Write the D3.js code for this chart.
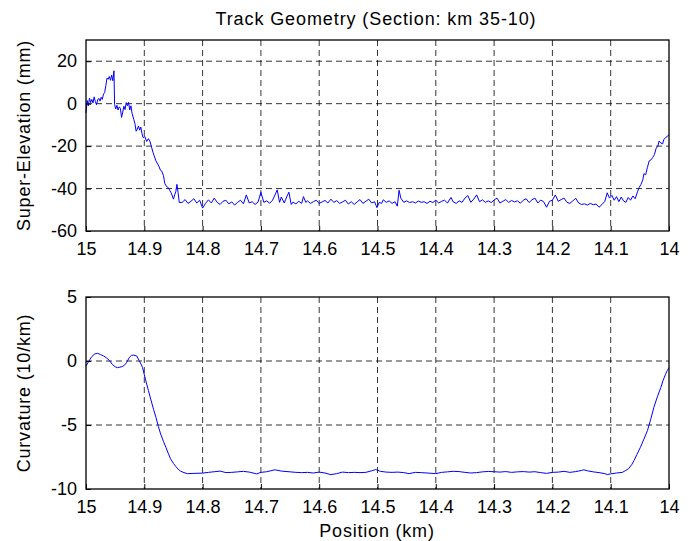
<!DOCTYPE html>
<html>
<head>
<meta charset="utf-8">
<script src="https://cdn.jsdelivr.net/npm/d3@7"></script>
<style>
  body { margin: 0; background: #fff; }
  svg text { font-family: "Liberation Sans", Arial, Helvetica, sans-serif; fill: #000; }
</style>
</head>
<body>
<div id="chart"></div>
<script>
// positions in km, values read along the section
const superElevation = [
  [15.000,-4.4],[14.998,1.5],[14.996,-1],[14.994,2.6],[14.992,0.5],[14.990,2],[14.988,0.3],[14.986,3.2],
  [14.984,1],[14.982,-0.5],[14.980,1.8],[14.978,2.5],[14.976,1.2],[14.974,3],[14.972,2],[14.970,4.5],
  [14.968,5.2],[14.966,8.5],[14.964,12],[14.962,11.5],[14.960,12.8],[14.958,11],[14.956,13.5],[14.954,10.8],
  [14.952,15.5],[14.951,-0.3],[14.949,-2.5],[14.947,-0.8],[14.945,-3],[14.943,-1.5],[14.941,-2.2],[14.939,-6.5],
  [14.937,-4],[14.935,-1.2],[14.933,-2.8],[14.931,0.5],[14.929,-1],[14.927,0.6],[14.925,-3],[14.923,-1],
  [14.921,-4.5],[14.918,-7.5],[14.916,-9.5],[14.914,-13],[14.912,-12],[14.910,-10.5],[14.908,-12.5],[14.906,-11],
  [14.904,-14],[14.902,-16],[14.899,-15.5],[14.896,-17.8],[14.893,-16.5],[14.890,-18],[14.888,-20],[14.885,-23],
  [14.883,-24.6],[14.880,-27],[14.877,-28.5],[14.875,-29.5],[14.872,-31.5],[14.870,-31.8],[14.867,-34],[14.865,-37.5],
  [14.862,-39],[14.859,-39.5],[14.856,-41],[14.854,-42],[14.852,-43.5],[14.850,-45],[14.848,-43],[14.846,-41.5],
  [14.844,-38],[14.842,-42],[14.840,-46.6],[14.835,-46.5],[14.830,-45.2],[14.825,-47],[14.820,-46],[14.815,-44.8],
  [14.810,-46.8],[14.805,-45.5],[14.800,-49.2],[14.795,-47],[14.790,-45.3],[14.785,-46.8],[14.780,-44.5],[14.775,-46.5],
  [14.770,-47.5],[14.765,-46],[14.760,-45.5],[14.755,-47.2],[14.750,-46.3],[14.745,-47.8],[14.740,-46.5],[14.735,-45.5],
  [14.730,-47.2],[14.725,-43],[14.720,-46.8],[14.715,-46.2],[14.710,-47.5],[14.705,-46.4],[14.700,-41.8],[14.695,-46.5],
  [14.690,-45.8],[14.685,-46.9],[14.680,-45.5],[14.675,-42.5],[14.672,-40.6],[14.668,-46.5],[14.665,-44],[14.660,-46.8],
  [14.655,-43.5],[14.652,-41.7],[14.648,-47.5],[14.645,-46.4],[14.640,-47.2],[14.635,-46],[14.630,-47],[14.627,-43.8],
  [14.623,-46.5],[14.620,-45.8],[14.615,-47],[14.610,-46.2],[14.605,-45.5],[14.600,-47],[14.595,-46.3],[14.590,-45.6],
  [14.585,-46.8],[14.580,-45],[14.575,-46.5],[14.570,-45.7],[14.565,-47],[14.560,-46.3],[14.555,-45.5],[14.550,-47.3],
  [14.545,-46.2],[14.540,-47.5],[14.535,-46.3],[14.530,-45.2],[14.525,-47],[14.520,-46],[14.515,-45],[14.510,-46.8],
  [14.505,-46.2],[14.501,-49],[14.497,-46.5],[14.493,-47],[14.490,-45.3],[14.485,-46.5],[14.480,-45.8],[14.475,-47],
  [14.470,-46.2],[14.466,-48.3],[14.463,-40.8],[14.460,-44.5],[14.455,-46.5],[14.450,-45.8],[14.445,-46.6],[14.440,-46.2],
  [14.435,-46.8],[14.430,-45.9],[14.425,-46.5],[14.420,-46.2],[14.415,-47],[14.410,-46],[14.405,-46.6],[14.400,-45.5],
  [14.395,-46.8],[14.390,-46],[14.385,-45.5],[14.380,-46.8],[14.374,-44.2],[14.370,-46.3],[14.365,-47],[14.360,-45.8],
  [14.355,-46.5],[14.350,-44.5],[14.345,-43.3],[14.340,-46.5],[14.335,-45],[14.330,-43],[14.325,-46.2],[14.320,-45.3],
  [14.315,-46.5],[14.310,-45.8],[14.305,-46.6],[14.300,-45.4],[14.295,-44.5],[14.290,-46.8],[14.285,-46],[14.280,-45.2],
  [14.275,-46.5],[14.270,-45.6],[14.265,-46.3],[14.260,-45.8],[14.255,-46.9],[14.250,-45.5],[14.245,-44.8],[14.240,-46.6],
  [14.235,-45.3],[14.230,-44.5],[14.225,-46.8],[14.220,-45.4],[14.215,-46.2],[14.210,-48.8],[14.205,-46],[14.200,-45.5],
  [14.195,-43],[14.190,-46],[14.185,-45.2],[14.180,-44.5],[14.175,-46.5],[14.170,-47],[14.165,-45.8],[14.160,-44.6],
  [14.155,-46.8],[14.150,-47.5],[14.145,-47.2],[14.140,-47.8],[14.135,-47],[14.130,-47.6],[14.125,-47.3],[14.120,-48.8],
  [14.115,-47.5],[14.110,-46],[14.106,-42],[14.102,-44.5],[14.098,-43.2],[14.094,-45.5],[14.090,-43.8],[14.086,-46.2],
  [14.082,-44],[14.078,-45.8],[14.074,-46.5],[14.070,-44.2],[14.066,-45.5],[14.062,-43.5],[14.058,-44.8],[14.054,-41.5],
  [14.051,-39.4],[14.048,-38],[14.045,-36],[14.043,-33],[14.040,-33.5],[14.037,-30],[14.034,-27],[14.031,-26.5],
  [14.028,-25.4],[14.025,-24],[14.022,-21],[14.019,-20],[14.017,-17.6],[14.014,-18.5],[14.011,-19],[14.009,-17],
  [14.006,-16],[14.003,-15.5],[14.000,-14.5]
];

const curvature = [
  [15.000,-0.39],[14.995,0],[14.990,0.35],[14.985,0.55],[14.980,0.6],[14.975,0.5],[14.970,0.4],[14.965,0.25],
  [14.960,0.05],[14.955,-0.26],[14.950,-0.45],[14.946,-0.52],[14.942,-0.48],[14.938,-0.44],[14.934,-0.33],[14.930,-0.1],
  [14.926,0.26],[14.922,0.44],[14.918,0.46],[14.913,0.39],[14.909,0.05],[14.905,-0.3],[14.903,-0.52],[14.898,-1.43],
  [14.893,-2.3],[14.889,-2.98],[14.884,-3.8],[14.880,-4.4],[14.876,-5.1],[14.872,-5.7],[14.867,-6.3],[14.863,-6.74],
  [14.859,-7.2],[14.855,-7.64],[14.850,-8],[14.846,-8.24],[14.842,-8.45],[14.838,-8.6],[14.832,-8.72],[14.826,-8.8],
  [14.815,-8.78],[14.800,-8.76],[14.790,-8.7],[14.780,-8.65],[14.770,-8.6],[14.760,-8.72],[14.750,-8.7],[14.740,-8.66],
  [14.730,-8.62],[14.720,-8.68],[14.707,-8.82],[14.700,-8.7],[14.690,-8.65],[14.676,-8.5],[14.665,-8.6],[14.650,-8.66],
  [14.640,-8.7],[14.630,-8.72],[14.620,-8.7],[14.610,-8.75],[14.600,-8.68],[14.590,-8.75],[14.580,-8.88],[14.570,-8.8],
  [14.560,-8.68],[14.550,-8.72],[14.540,-8.7],[14.530,-8.72],[14.520,-8.7],[14.510,-8.58],[14.503,-8.48],[14.495,-8.62],
  [14.485,-8.68],[14.475,-8.7],[14.465,-8.68],[14.455,-8.72],[14.446,-8.8],[14.435,-8.7],[14.425,-8.72],[14.415,-8.75],
  [14.400,-8.8],[14.390,-8.7],[14.380,-8.66],[14.370,-8.62],[14.360,-8.64],[14.350,-8.7],[14.340,-8.75],[14.330,-8.72],
  [14.320,-8.66],[14.310,-8.63],[14.300,-8.65],[14.290,-8.68],[14.280,-8.64],[14.270,-8.7],[14.260,-8.66],[14.250,-8.64],
  [14.240,-8.68],[14.230,-8.65],[14.220,-8.72],[14.210,-8.78],[14.200,-8.7],[14.190,-8.68],[14.180,-8.62],[14.170,-8.7],
  [14.160,-8.64],[14.150,-8.55],[14.146,-8.5],[14.140,-8.58],[14.130,-8.66],[14.120,-8.72],[14.110,-8.8],[14.106,-8.87],
  [14.100,-8.82],[14.090,-8.75],[14.080,-8.7],[14.074,-8.55],[14.069,-8.4],[14.064,-8.1],[14.060,-7.78],[14.055,-7.3],
  [14.049,-6.74],[14.043,-6.1],[14.037,-5.44],[14.031,-4.5],[14.026,-3.63],[14.020,-2.8],[14.014,-2.07],[14.010,-1.5],
  [14.006,-1.04],[14.003,-0.75],[14.000,-0.52]
];

const xTicks = [15, 14.9, 14.8, 14.7, 14.6, 14.5, 14.4, 14.3, 14.2, 14.1, 14];
const seTicks = [-60, -40, -20, 0, 20];
const curvTicks = [-10, -5, 0, 5];

const width = 694, height = 541;
const left = 86, right = 669;

const svg = d3.select("#chart").append("svg")
    .attr("width", width)
    .attr("height", height);

const x = d3.scaleLinear().domain([15, 14]).range([left, right]);
// plain hyphen for negatives
const fmt = d => String(d);

function panel(top, bottom, yDomain, yTicks, data, yLabel) {
    const y = d3.scaleLinear().domain(yDomain).range([bottom, top]);
    const g = svg.append("g");

    // dashed grid
    g.selectAll(".vgrid").data(xTicks.slice(1, -1)).enter().append("line")
        .attr("x1", d => x(d)).attr("x2", d => x(d))
        .attr("y1", top).attr("y2", bottom)
        .attr("stroke", "#000").attr("stroke-width", 0.8)
        .attr("stroke-dasharray", "6,4");
    g.selectAll(".hgrid").data(yTicks.filter(d => d > yDomain[0] && d < yDomain[1])).enter().append("line")
        .attr("x1", left).attr("x2", right)
        .attr("y1", d => y(d)).attr("y2", d => y(d))
        .attr("stroke", "#000").attr("stroke-width", 0.8)
        .attr("stroke-dasharray", "6,4");

    const line = d3.line().x(d => x(d[0])).y(d => y(d[1]));
    g.append("path").datum(data)
        .attr("d", line)
        .attr("fill", "none")
        .attr("stroke", "#0000ff")
        .attr("stroke-width", 1);

    // axes with inward ticks, like a boxed plot
    const xAxis = g.append("g").attr("transform", `translate(0,${bottom})`)
        .call(d3.axisBottom(x).tickValues(xTicks).tickSize(-5).tickPadding(11).tickFormat(fmt));
    const yAxis = g.append("g").attr("transform", `translate(${left},0)`)
        .call(d3.axisLeft(y).tickValues(yTicks).tickSize(-5).tickPadding(9).tickFormat(fmt));
    [xAxis, yAxis].forEach(a => {
        a.select(".domain").remove();
        a.selectAll("line").attr("stroke", "#000");
        a.selectAll("text").style("font-size", "18px").attr("font-family", null);
    });

    g.append("rect")
        .attr("x", left).attr("y", top)
        .attr("width", right - left).attr("height", bottom - top)
        .attr("fill", "none").attr("stroke", "#000").attr("stroke-width", 1.3);

    g.append("text")
        .attr("transform", `translate(30,${(top + bottom) / 2}) rotate(-90)`)
        .attr("text-anchor", "middle")
        .style("font-size", "18px")
        .style("letter-spacing", "0.8px")
        .text(yLabel);
}

panel(40, 231, [-60, 30], seTicks, superElevation, "Super-Elevation (mm)");
panel(297, 489, [-10, 5], curvTicks, curvature, "Curvature (10/km)");

svg.append("text")
    .attr("x", 376).attr("y", 25)
    .attr("text-anchor", "middle")
    .style("font-size", "18px")
    .style("letter-spacing", "0.9px")
    .text("Track Geometry (Section: km 35-10)");

svg.append("text")
    .attr("x", 377).attr("y", 537)
    .attr("text-anchor", "middle")
    .style("font-size", "18px")
    .style("letter-spacing", "0.8px")
    .text("Position (km)");
</script>
</body>
</html>
